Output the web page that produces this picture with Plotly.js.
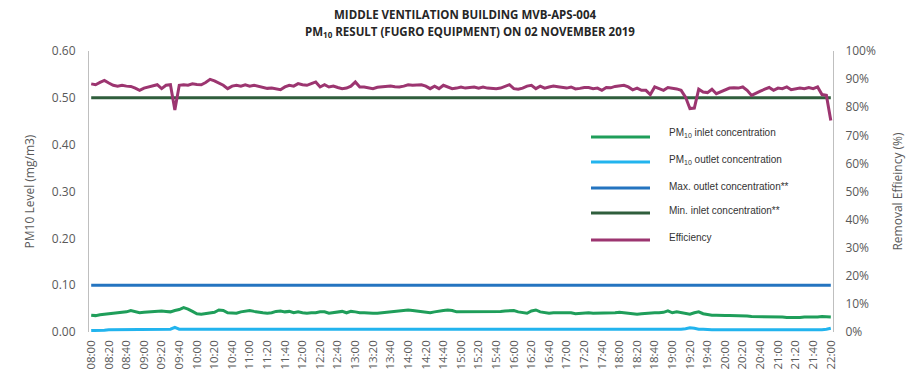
<!DOCTYPE html>
<html>
<head>
<meta charset="utf-8">
<script src="https://cdn.plot.ly/plotly-3.0.1.min.js"></script>
<style>html,body{margin:0;padding:0;background:#fff;}#chart{width:922px;height:382px;}</style>
</head>
<body>
<div id="chart"></div>
<script>
// ---- DATA (5-minute readings, 08:00 - 22:00) ----
var times = [
"08:00","08:05","08:10","08:15","08:20","08:25","08:30","08:35","08:40","08:45","08:50","08:55",
"09:00","09:05","09:10","09:15","09:20","09:25","09:30","09:35","09:40","09:45","09:50","09:55",
"10:00","10:05","10:10","10:15","10:20","10:25","10:30","10:35","10:40","10:45","10:50","10:55",
"11:00","11:05","11:10","11:15","11:20","11:25","11:30","11:35","11:40","11:45","11:50","11:55",
"12:00","12:05","12:10","12:15","12:20","12:25","12:30","12:35","12:40","12:45","12:50","12:55",
"13:00","13:05","13:10","13:15","13:20","13:25","13:30","13:35","13:40","13:45","13:50","13:55",
"14:00","14:05","14:10","14:15","14:20","14:25","14:30","14:35","14:40","14:45","14:50","14:55",
"15:00","15:05","15:10","15:15","15:20","15:25","15:30","15:35","15:40","15:45","15:50","15:55",
"16:00","16:05","16:10","16:15","16:20","16:25","16:30","16:35","16:40","16:45","16:50","16:55",
"17:00","17:05","17:10","17:15","17:20","17:25","17:30","17:35","17:40","17:45","17:50","17:55",
"18:00","18:05","18:10","18:15","18:20","18:25","18:30","18:35","18:40","18:45","18:50","18:55",
"19:00","19:05","19:10","19:15","19:20","19:25","19:30","19:35","19:40","19:45","19:50","19:55",
"20:00","20:05","20:10","20:15","20:20","20:25","20:30","20:35","20:40","20:45","20:50","20:55",
"21:00","21:05","21:10","21:15","21:20","21:25","21:30","21:35","21:40","21:45","21:50","21:55",
"22:00"];

var tickLabels = ["08:00","08:20","08:40","09:00","09:20","09:40","10:00","10:20","10:40","11:00","11:20","11:40",
"12:00","12:20","12:40","13:00","13:20","13:40","14:00","14:20","14:40","15:00","15:20","15:40",
"16:00","16:20","16:40","17:00","17:20","17:40","18:00","18:20","18:40","19:00","19:20","19:40",
"20:00","20:20","20:40","21:00","21:20","21:40","22:00"];

// PM10 inlet concentration (mg/m3)
var inletConc = [
0.036,0.035,0.037,0.038,0.039,0.040,0.041,0.041,0.043,0.046,
0.043,0.041,0.042,0.043,0.043,0.044,0.045,0.044,0.043,0.046,
0.048,0.052,0.049,0.044,0.039,0.038,0.039,0.040,0.042,0.047,
0.046,0.041,0.041,0.040,0.043,0.045,0.046,0.044,0.042,0.041,
0.040,0.041,0.044,0.045,0.043,0.044,0.041,0.043,0.041,0.040,
0.041,0.041,0.043,0.043,0.040,0.041,0.042,0.044,0.041,0.044,
0.043,0.041,0.041,0.040,0.040,0.040,0.041,0.042,0.043,0.044,
0.045,0.047,0.047,0.046,0.045,0.043,0.042,0.041,0.043,0.045,
0.046,0.047,0.046,0.043,0.043,0.043,0.043,0.043,0.043,0.043,
0.043,0.043,0.043,0.044,0.045,0.046,0.046,0.043,0.042,0.040,
0.045,0.047,0.043,0.041,0.040,0.041,0.041,0.041,0.041,0.041,
0.039,0.040,0.041,0.041,0.040,0.040,0.041,0.041,0.041,0.041,
0.042,0.041,0.040,0.039,0.038,0.039,0.040,0.040,0.041,0.041,
0.042,0.045,0.041,0.043,0.041,0.040,0.038,0.041,0.043,0.039,
0.037,0.036,0.036,0.035,0.035,0.035,0.035,0.034,0.034,0.034,
0.033,0.033,0.033,0.033,0.033,0.032,0.032,0.032,0.031,0.031,
0.030,0.031,0.032,0.032,0.031,0.032,0.033,0.032,0.032];

// PM10 outlet concentration (mg/m3)
var outletConc = [
0.003,0.003,0.004,0.004,0.005,0.005,0.005,0.005,0.005,0.006,
0.005,0.005,0.005,0.005,0.006,0.005,0.006,0.005,0.006,0.010,
0.006,0.006,0.006,0.005,0.005,0.005,0.005,0.005,0.005,0.006,
0.006,0.005,0.005,0.005,0.006,0.006,0.006,0.005,0.005,0.005,
0.005,0.005,0.006,0.006,0.006,0.005,0.005,0.005,0.005,0.005,
0.005,0.005,0.006,0.005,0.005,0.005,0.006,0.006,0.005,0.005,
0.005,0.005,0.005,0.005,0.005,0.005,0.005,0.006,0.006,0.006,
0.006,0.006,0.006,0.006,0.006,0.005,0.005,0.006,0.005,0.006,
0.006,0.006,0.006,0.006,0.006,0.006,0.006,0.006,0.006,0.006,
0.006,0.006,0.006,0.006,0.006,0.006,0.006,0.006,0.006,0.005,
0.006,0.006,0.006,0.005,0.005,0.005,0.005,0.005,0.005,0.005,
0.005,0.005,0.005,0.005,0.005,0.005,0.006,0.005,0.005,0.005,
0.005,0.005,0.005,0.005,0.005,0.005,0.006,0.006,0.005,0.006,
0.006,0.006,0.006,0.006,0.006,0.007,0.009,0.008,0.006,0.006,
0.005,0.005,0.005,0.005,0.005,0.005,0.005,0.005,0.005,0.005,
0.005,0.005,0.005,0.005,0.004,0.005,0.004,0.004,0.004,0.004,
0.004,0.004,0.004,0.004,0.004,0.005,0.005,0.006,0.008];

// Removal efficiency (%)
var efficiency = [
88.3,88.0,88.8,89.5,88.6,87.8,87.5,87.8,87.5,87.4,
86.8,86.0,86.8,87.2,87.4,88.0,86.6,87.8,88.0,79.0,
87.8,88.0,87.8,88.3,88.1,88.0,88.8,89.9,89.4,88.6,
87.8,86.6,87.5,87.8,87.5,88.0,87.5,87.8,87.5,87.2,
86.7,86.8,86.6,86.2,87.2,87.8,87.5,88.4,88.0,87.8,
88.4,89.0,87.2,88.0,87.2,87.5,87.0,86.6,86.8,87.5,
89.0,87.2,87.2,86.8,86.6,87.1,87.2,87.2,87.5,87.3,
87.2,87.5,88.0,87.8,87.8,88.0,87.5,86.6,87.5,86.6,
87.8,87.2,86.6,86.8,87.2,86.8,87.0,87.2,86.8,87.2,
86.8,86.6,86.6,86.8,87.4,88.0,86.6,86.4,86.8,87.5,
87.8,86.6,87.5,86.8,87.2,87.5,87.3,87.0,86.8,87.2,
86.5,86.7,87.0,87.0,86.6,86.8,86.0,87.0,86.9,87.4,
87.6,87.8,87.2,86.2,86.8,86.0,86.0,84.5,87.2,86.6,
86.0,87.0,86.8,86.5,86.0,83.6,79.5,79.7,86.4,85.4,
85.2,86.4,84.8,85.4,86.2,86.8,86.9,86.8,87.2,86.0,
84.2,85.1,85.7,86.4,87.0,86.0,86.8,86.6,87.2,86.2,
86.6,86.8,86.6,87.0,86.6,87.2,84.5,84.2,75.3];

// Limits (mg/m3)
var maxOutletLimit = 0.10;
var minInletLimit = 0.50;

var seriesNames = ["PM<sub>10</sub> inlet concentration","PM<sub>10</sub> outlet concentration",
                   "Max. outlet concentration**","Min. inlet concentration**","Efficiency"];
var seriesColors = ["#1f9e5a","#22b4ee","#2474c0","#2f5e3c","#9c3570"];

// ---- CHART ----
var lastT = times[times.length - 1];
var traces = [
  {x: times, y: inletConc, name: seriesNames[0], type: "scatter", mode: "lines",
   line: {color: seriesColors[0], width: 3}, yaxis: "y"},
  {x: times, y: outletConc, name: seriesNames[1], type: "scatter", mode: "lines",
   line: {color: seriesColors[1], width: 3}, yaxis: "y"},
  {x: [times[0], lastT], y: [maxOutletLimit, maxOutletLimit], name: seriesNames[2], type: "scatter", mode: "lines",
   line: {color: seriesColors[2], width: 3}, yaxis: "y"},
  {x: [times[0], lastT], y: [minInletLimit, minInletLimit], name: seriesNames[3], type: "scatter", mode: "lines",
   line: {color: seriesColors[3], width: 3}, yaxis: "y"},
  {x: times, y: efficiency, name: seriesNames[4], type: "scatter", mode: "lines",
   line: {color: seriesColors[4], width: 3}, yaxis: "y2"}
];

// Custom legend (long line samples as in the original)
var L = 89, R = 833, T = 51, B = 332;
function px(x) { return (x - L) / (R - L); }
function py(y) { return (B - y) / (B - T); }
var legLineY = [137, 162, 188, 213, 240];
var legTextY = [133, 160, 186, 211, 237];
var shapes = [], annotations = [];
for (var k = 0; k < seriesNames.length; k++) {
  shapes.push({type: "line", xref: "paper", yref: "paper",
    x0: px(591), x1: px(650), y0: py(legLineY[k]), y1: py(legLineY[k]),
    line: {color: seriesColors[k], width: 3}});
  annotations.push({xref: "paper", yref: "paper", x: px(667), y: py(legTextY[k]),
    xanchor: "left", yanchor: "middle", showarrow: false, text: seriesNames[k],
    font: {family: "Liberation Sans, Arial, sans-serif", size: 10, color: "#333333"}});
}
annotations.push({xref: "paper", yref: "paper", x: px(465), y: py(15), xanchor: "center", yanchor: "middle",
  showarrow: false, text: "<b>MIDDLE VENTILATION BUILDING MVB-APS-004</b>",
  font: {family: "Open Sans, sans-serif", size: 11.5, color: "#262626"}});
annotations.push({xref: "paper", yref: "paper", x: px(470), y: py(32), xanchor: "center", yanchor: "middle",
  showarrow: false, text: "<b>PM<sub>10</sub> RESULT (FUGRO EQUIPMENT) ON 02 NOVEMBER 2019</b>",
  font: {family: "Open Sans, sans-serif", size: 11.5, color: "#262626"}});

var axisFont = {family: "Open Sans, sans-serif", size: 12, color: "#595959"};
var layout = {
  width: 922, height: 382,
  margin: {l: L, r: 922 - R, t: T, b: 382 - B, pad: 0},
  paper_bgcolor: "#ffffff", plot_bgcolor: "#ffffff",
  showlegend: false,
  font: {family: "Open Sans, sans-serif", color: "#595959"},
  xaxis: {type: "category", range: [-0.5, times.length - 0.5], tickmode: "array",
    tickvals: tickLabels, ticktext: tickLabels, tickangle: -90,
    tickfont: {family: "Open Sans, sans-serif", size: 11.5, color: "#595959"},
    showgrid: false, zeroline: false, showline: false, ticks: "", ticklabelstandoff: 5},
  yaxis: {range: [0, 0.6], dtick: 0.1, tickformat: ".2f", showgrid: false, zeroline: false,
    showline: true, linecolor: "#bfbfbf", linewidth: 1, ticks: "", tickfont: axisFont,
    ticklabelstandoff: 10,
    title: {text: "PM10 Level (mg/m3)", font: axisFont, standoff: 14}},
  yaxis2: {overlaying: "y", side: "right", range: [0, 100], dtick: 10, ticksuffix: "%",
    showgrid: false, zeroline: false, showline: true, linecolor: "#bfbfbf", linewidth: 1,
    ticks: "", tickfont: axisFont, ticklabelstandoff: 9,
    title: {text: "Removal Effieincy (%)", font: axisFont, standoff: 18}},
  shapes: shapes,
  annotations: annotations
};

Plotly.newPlot("chart", traces, layout, {displayModeBar: false, staticPlot: true});
</script>
</body>
</html>
